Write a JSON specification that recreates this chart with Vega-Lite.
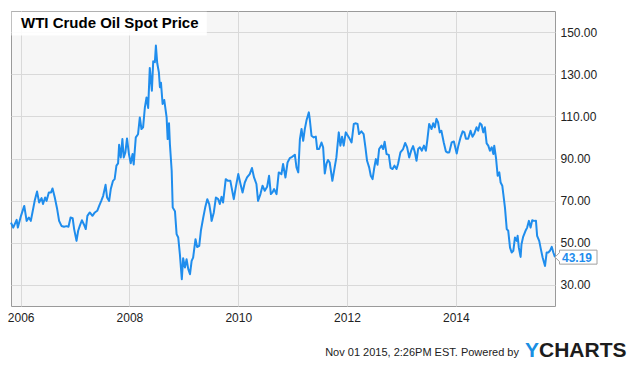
{
  "$schema": "https://vega.github.io/schema/vega-lite/v6.json",
  "width": 544,
  "height": 295,
  "autosize": "none",
  "padding": {"left": 11, "top": 11, "right": 80, "bottom": 60},
  "background": "white",
  "config": {
    "view": {"fill": "#f6f6f6", "stroke": "#9a9a9a", "strokeWidth": 1},
    "font": "Liberation Sans"
  },
  "title": {
    "text": "WTI Crude Oil Spot Price",
    "anchor": "start",
    "frame": "group",
    "orient": "top",
    "offset": -18,
    "baseline": "alphabetic",
    "dx": 10,
    "dy": 14,
    "fontSize": 15,
    "font": "Liberation Sans",
    "fontWeight": "bold",
    "color": "#000000"
  },
  "layer": [
    {
      "data": {"values": [
        {"date": "2005-10-28", "price": 59.6},
        {"date": "2005-11-12", "price": 57.2},
        {"date": "2005-12-05", "price": 60.9},
        {"date": "2005-12-13", "price": 57.2},
        {"date": "2006-01-03", "price": 62.8},
        {"date": "2006-01-25", "price": 67.5},
        {"date": "2006-02-10", "price": 60.4},
        {"date": "2006-02-25", "price": 62.0},
        {"date": "2006-03-10", "price": 60.4},
        {"date": "2006-03-21", "price": 64.4},
        {"date": "2006-04-05", "price": 69.9},
        {"date": "2006-04-21", "price": 74.3},
        {"date": "2006-05-05", "price": 69.1},
        {"date": "2006-05-21", "price": 71.2},
        {"date": "2006-05-31", "price": 68.4},
        {"date": "2006-06-14", "price": 71.5},
        {"date": "2006-06-24", "price": 69.9},
        {"date": "2006-07-09", "price": 73.9},
        {"date": "2006-07-24", "price": 73.9},
        {"date": "2006-08-03", "price": 75.8},
        {"date": "2006-08-18", "price": 71.5},
        {"date": "2006-09-03", "price": 66.0},
        {"date": "2006-09-16", "price": 60.4},
        {"date": "2006-10-02", "price": 58.0},
        {"date": "2006-10-19", "price": 57.6},
        {"date": "2006-11-05", "price": 57.9},
        {"date": "2006-11-18", "price": 57.6},
        {"date": "2006-12-02", "price": 62.0},
        {"date": "2006-12-16", "price": 61.7},
        {"date": "2006-12-26", "price": 56.5},
        {"date": "2007-01-11", "price": 50.9},
        {"date": "2007-01-22", "price": 55.7},
        {"date": "2007-02-02", "price": 58.0},
        {"date": "2007-02-16", "price": 60.7},
        {"date": "2007-03-01", "price": 58.8},
        {"date": "2007-03-14", "price": 56.5},
        {"date": "2007-03-25", "price": 62.8},
        {"date": "2007-04-10", "price": 64.4},
        {"date": "2007-04-28", "price": 62.8},
        {"date": "2007-05-14", "price": 64.4},
        {"date": "2007-05-30", "price": 65.2},
        {"date": "2007-06-12", "price": 67.5},
        {"date": "2007-06-26", "price": 69.9},
        {"date": "2007-07-09", "price": 72.3},
        {"date": "2007-07-25", "price": 77.5},
        {"date": "2007-08-04", "price": 71.5},
        {"date": "2007-08-18", "price": 69.9},
        {"date": "2007-08-29", "price": 75.5},
        {"date": "2007-09-13", "price": 79.4},
        {"date": "2007-09-24", "price": 80.2},
        {"date": "2007-10-06", "price": 86.6},
        {"date": "2007-10-17", "price": 87.7},
        {"date": "2007-10-24", "price": 96.5},
        {"date": "2007-11-04", "price": 90.5},
        {"date": "2007-11-15", "price": 99.2},
        {"date": "2007-11-24", "price": 90.5},
        {"date": "2007-12-05", "price": 92.9},
        {"date": "2007-12-16", "price": 99.5},
        {"date": "2007-12-29", "price": 92.1},
        {"date": "2008-01-10", "price": 87.7},
        {"date": "2008-01-22", "price": 92.1},
        {"date": "2008-01-30", "price": 87.2},
        {"date": "2008-02-13", "price": 100.0},
        {"date": "2008-02-28", "price": 101.5},
        {"date": "2008-03-11", "price": 109.5},
        {"date": "2008-03-22", "price": 104.0},
        {"date": "2008-04-02", "price": 104.8},
        {"date": "2008-04-14", "price": 114.3},
        {"date": "2008-04-25", "price": 119.0},
        {"date": "2008-05-06", "price": 114.0},
        {"date": "2008-05-17", "price": 133.0},
        {"date": "2008-05-31", "price": 122.2},
        {"date": "2008-06-09", "price": 136.1},
        {"date": "2008-06-20", "price": 135.7},
        {"date": "2008-06-27", "price": 143.6},
        {"date": "2008-07-06", "price": 135.2},
        {"date": "2008-07-17", "price": 130.9},
        {"date": "2008-07-24", "price": 123.8},
        {"date": "2008-07-31", "price": 126.0},
        {"date": "2008-08-11", "price": 115.9},
        {"date": "2008-08-22", "price": 117.8},
        {"date": "2008-09-07", "price": 109.5},
        {"date": "2008-09-14", "price": 99.2},
        {"date": "2008-09-23", "price": 106.7},
        {"date": "2008-09-29", "price": 96.9},
        {"date": "2008-10-11", "price": 84.2},
        {"date": "2008-10-18", "price": 66.7},
        {"date": "2008-11-02", "price": 65.0},
        {"date": "2008-11-13", "price": 54.1},
        {"date": "2008-11-24", "price": 52.5},
        {"date": "2008-12-05", "price": 44.6},
        {"date": "2008-12-18", "price": 32.7},
        {"date": "2008-12-27", "price": 42.7},
        {"date": "2009-01-08", "price": 38.3},
        {"date": "2009-01-19", "price": 42.2},
        {"date": "2009-01-30", "price": 37.6},
        {"date": "2009-02-11", "price": 35.1},
        {"date": "2009-02-22", "price": 41.4},
        {"date": "2009-03-04", "price": 43.0},
        {"date": "2009-03-20", "price": 51.7},
        {"date": "2009-03-31", "price": 48.0},
        {"date": "2009-04-14", "price": 48.5},
        {"date": "2009-04-25", "price": 55.7},
        {"date": "2009-05-11", "price": 62.0},
        {"date": "2009-05-24", "price": 66.7},
        {"date": "2009-06-07", "price": 70.7},
        {"date": "2009-06-20", "price": 68.4},
        {"date": "2009-07-01", "price": 63.6},
        {"date": "2009-07-06", "price": 60.4},
        {"date": "2009-07-21", "price": 64.4},
        {"date": "2009-08-04", "price": 71.5},
        {"date": "2009-08-19", "price": 70.7},
        {"date": "2009-08-30", "price": 68.4},
        {"date": "2009-09-11", "price": 71.8},
        {"date": "2009-09-21", "price": 69.1},
        {"date": "2009-10-09", "price": 80.2},
        {"date": "2009-10-24", "price": 79.4},
        {"date": "2009-11-09", "price": 79.4},
        {"date": "2009-12-02", "price": 70.7},
        {"date": "2009-12-15", "price": 76.2},
        {"date": "2010-01-01", "price": 82.6},
        {"date": "2010-01-16", "price": 77.9},
        {"date": "2010-01-30", "price": 73.9},
        {"date": "2010-02-14", "price": 78.6},
        {"date": "2010-03-01", "price": 81.0},
        {"date": "2010-03-19", "price": 82.6},
        {"date": "2010-04-03", "price": 85.5},
        {"date": "2010-04-17", "price": 81.0},
        {"date": "2010-05-03", "price": 77.9},
        {"date": "2010-05-14", "price": 69.9},
        {"date": "2010-05-30", "price": 73.1},
        {"date": "2010-06-13", "price": 77.1},
        {"date": "2010-06-28", "price": 74.7},
        {"date": "2010-07-14", "price": 76.6},
        {"date": "2010-07-27", "price": 81.8},
        {"date": "2010-08-08", "price": 73.1},
        {"date": "2010-08-19", "price": 73.9},
        {"date": "2010-08-30", "price": 75.5},
        {"date": "2010-09-15", "price": 73.1},
        {"date": "2010-09-30", "price": 83.4},
        {"date": "2010-10-18", "price": 82.6},
        {"date": "2010-10-29", "price": 87.4},
        {"date": "2010-11-14", "price": 81.0},
        {"date": "2010-11-28", "price": 88.1},
        {"date": "2010-12-13", "price": 90.2},
        {"date": "2010-12-29", "price": 90.8},
        {"date": "2011-01-16", "price": 91.8},
        {"date": "2011-01-27", "price": 85.8},
        {"date": "2011-02-08", "price": 83.4},
        {"date": "2011-02-19", "price": 99.2},
        {"date": "2011-03-02", "price": 104.0},
        {"date": "2011-03-13", "price": 98.4},
        {"date": "2011-03-24", "price": 104.0},
        {"date": "2011-04-04", "price": 108.0},
        {"date": "2011-04-20", "price": 111.9},
        {"date": "2011-04-26", "price": 108.8},
        {"date": "2011-05-08", "price": 100.8},
        {"date": "2011-05-23", "price": 100.0},
        {"date": "2011-06-06", "price": 100.4},
        {"date": "2011-06-15", "price": 94.5},
        {"date": "2011-06-28", "price": 94.5},
        {"date": "2011-07-14", "price": 97.6},
        {"date": "2011-07-25", "price": 95.3},
        {"date": "2011-08-05", "price": 82.9},
        {"date": "2011-08-16", "price": 87.4},
        {"date": "2011-08-27", "price": 89.3},
        {"date": "2011-09-07", "price": 88.1},
        {"date": "2011-09-25", "price": 79.4},
        {"date": "2011-10-11", "price": 86.0},
        {"date": "2011-10-22", "price": 90.5},
        {"date": "2011-11-07", "price": 102.4},
        {"date": "2011-11-18", "price": 96.1},
        {"date": "2011-11-29", "price": 100.3},
        {"date": "2011-12-10", "price": 96.1},
        {"date": "2011-12-24", "price": 102.4},
        {"date": "2012-01-07", "price": 100.8},
        {"date": "2012-01-20", "price": 99.2},
        {"date": "2012-02-01", "price": 97.6},
        {"date": "2012-02-16", "price": 106.4},
        {"date": "2012-03-01", "price": 106.7},
        {"date": "2012-03-12", "price": 106.4},
        {"date": "2012-03-22", "price": 101.6},
        {"date": "2012-04-07", "price": 102.9},
        {"date": "2012-04-22", "price": 101.6},
        {"date": "2012-05-04", "price": 95.3},
        {"date": "2012-05-15", "price": 88.9},
        {"date": "2012-05-29", "price": 85.8},
        {"date": "2012-06-09", "price": 81.8},
        {"date": "2012-06-21", "price": 80.2},
        {"date": "2012-07-01", "price": 85.0},
        {"date": "2012-07-13", "price": 89.7},
        {"date": "2012-07-24", "price": 87.0},
        {"date": "2012-08-04", "price": 94.5},
        {"date": "2012-08-20", "price": 96.1},
        {"date": "2012-08-31", "price": 94.5},
        {"date": "2012-09-10", "price": 98.0},
        {"date": "2012-09-23", "price": 92.1},
        {"date": "2012-10-08", "price": 91.7},
        {"date": "2012-10-20", "price": 85.5},
        {"date": "2012-11-02", "price": 85.0},
        {"date": "2012-11-15", "price": 86.6},
        {"date": "2012-11-29", "price": 85.0},
        {"date": "2012-12-09", "price": 87.4},
        {"date": "2012-12-25", "price": 92.9},
        {"date": "2013-01-12", "price": 94.5},
        {"date": "2013-01-26", "price": 97.4},
        {"date": "2013-02-08", "price": 95.3},
        {"date": "2013-02-22", "price": 90.5},
        {"date": "2013-03-07", "price": 93.7},
        {"date": "2013-03-20", "price": 95.9},
        {"date": "2013-04-01", "price": 92.9},
        {"date": "2013-04-12", "price": 88.9},
        {"date": "2013-04-23", "price": 94.5},
        {"date": "2013-05-05", "price": 95.3},
        {"date": "2013-05-18", "price": 93.7},
        {"date": "2013-06-01", "price": 96.1},
        {"date": "2013-06-14", "price": 93.7},
        {"date": "2013-06-23", "price": 98.4},
        {"date": "2013-07-06", "price": 106.4},
        {"date": "2013-07-22", "price": 104.0},
        {"date": "2013-08-02", "price": 106.7},
        {"date": "2013-08-13", "price": 104.8},
        {"date": "2013-08-24", "price": 108.8},
        {"date": "2013-09-04", "price": 107.1},
        {"date": "2013-09-15", "price": 102.4},
        {"date": "2013-09-26", "price": 103.2},
        {"date": "2013-10-12", "price": 97.6},
        {"date": "2013-10-26", "price": 93.4},
        {"date": "2013-11-05", "price": 92.9},
        {"date": "2013-11-18", "price": 92.9},
        {"date": "2013-12-04", "price": 97.6},
        {"date": "2013-12-19", "price": 98.1},
        {"date": "2014-01-07", "price": 92.4},
        {"date": "2014-01-18", "price": 96.1},
        {"date": "2014-02-03", "price": 100.3},
        {"date": "2014-02-16", "price": 102.9},
        {"date": "2014-02-27", "price": 102.4},
        {"date": "2014-03-10", "price": 99.4},
        {"date": "2014-03-25", "price": 99.4},
        {"date": "2014-04-10", "price": 103.2},
        {"date": "2014-04-23", "price": 100.3},
        {"date": "2014-05-04", "price": 101.6},
        {"date": "2014-05-20", "price": 104.8},
        {"date": "2014-05-31", "price": 103.2},
        {"date": "2014-06-12", "price": 106.7},
        {"date": "2014-06-23", "price": 106.0},
        {"date": "2014-07-04", "price": 102.4},
        {"date": "2014-07-15", "price": 104.8},
        {"date": "2014-07-27", "price": 97.2},
        {"date": "2014-08-07", "price": 96.1},
        {"date": "2014-08-18", "price": 93.7},
        {"date": "2014-08-30", "price": 95.3},
        {"date": "2014-09-10", "price": 92.1},
        {"date": "2014-09-16", "price": 96.1},
        {"date": "2014-09-28", "price": 90.2},
        {"date": "2014-10-09", "price": 81.8},
        {"date": "2014-10-20", "price": 83.4},
        {"date": "2014-10-29", "price": 78.6},
        {"date": "2014-11-09", "price": 77.1},
        {"date": "2014-11-16", "price": 73.1},
        {"date": "2014-11-27", "price": 66.7},
        {"date": "2014-12-09", "price": 56.5},
        {"date": "2014-12-19", "price": 55.7},
        {"date": "2014-12-31", "price": 47.7},
        {"date": "2015-01-11", "price": 45.4},
        {"date": "2015-01-22", "price": 46.2},
        {"date": "2015-02-02", "price": 52.5},
        {"date": "2015-02-14", "price": 50.9},
        {"date": "2015-02-20", "price": 53.3},
        {"date": "2015-02-28", "price": 47.7},
        {"date": "2015-03-12", "price": 43.3},
        {"date": "2015-03-18", "price": 49.3},
        {"date": "2015-03-29", "price": 52.8},
        {"date": "2015-04-14", "price": 55.7},
        {"date": "2015-04-25", "price": 57.2},
        {"date": "2015-05-07", "price": 60.4},
        {"date": "2015-05-18", "price": 57.2},
        {"date": "2015-05-29", "price": 60.7},
        {"date": "2015-06-09", "price": 60.4},
        {"date": "2015-06-23", "price": 60.5},
        {"date": "2015-07-01", "price": 53.3},
        {"date": "2015-07-15", "price": 50.9},
        {"date": "2015-07-26", "price": 47.0},
        {"date": "2015-08-07", "price": 43.0},
        {"date": "2015-08-23", "price": 39.0},
        {"date": "2015-09-03", "price": 45.4},
        {"date": "2015-09-14", "price": 45.4},
        {"date": "2015-09-25", "price": 46.2},
        {"date": "2015-10-07", "price": 48.1},
        {"date": "2015-10-18", "price": 45.4},
        {"date": "2015-10-29", "price": 43.19}
      ]},
      "mark": {"type": "line", "color": "#1f8ded", "strokeWidth": 2, "strokeJoin": "round"},
      "encoding": {
        "x": {
          "field": "date",
          "type": "temporal",
          "scale": {"domain": [{"year": 2005, "month": 10, "date": 28}, {"year": 2015, "month": 10, "date": 29}]},
          "axis": {
            "values": [{"year": 2006, "month": 1, "date": 1}, {"year": 2008, "month": 1, "date": 1}, {"year": 2010, "month": 1, "date": 1}, {"year": 2012, "month": 1, "date": 1}, {"year": 2014, "month": 1, "date": 1}],
            "format": "%Y",
            "grid": true,
            "gridColor": "#d9d9d9",
            "ticks": false,
            "tickSize": 0,
            "domain": false,
            "labelFont": "Liberation Sans",
            "labelFontSize": 12,
            "labelColor": "#222222",
            "labelPadding": 6,
            "labelFlush": false,
            "labelOverlap": false,
            "title": null
          }
        },
        "y": {
          "field": "price",
          "type": "quantitative",
          "scale": {"domain": [20, 160], "nice": false, "zero": false},
          "axis": {
            "orient": "right",
            "values": [30, 50, 70, 90, 110, 130, 150],
            "format": ".2f",
            "grid": true,
            "gridColor": "#d9d9d9",
            "ticks": false,
            "tickSize": 0,
            "domain": false,
            "labelFont": "Liberation Sans",
            "labelFontSize": 12,
            "labelColor": "#222222",
            "labelPadding": 5,
            "title": null
          }
        }
      }
    },
    {
      "data": {"values": [{}]},
      "mark": {"type": "rect", "fill": "#ffffff", "opacity": 0.92},
      "encoding": {
        "x": {"datum": {"year": 2005, "month": 11, "date": 1}, "type": "temporal"},
        "x2": {"datum": {"year": 2009, "month": 6, "date": 4}},
        "y": {"datum": 159.6, "type": "quantitative"},
        "y2": {"datum": 148.4}
      }
    },
    {
      "data": {"values": [{}]},
      "mark": {
        "type": "point",
        "shape": "M0,0 L4.5,-4.5 L4.5,-7 L42,-7 L42,7 L4.5,7 L4.5,4.5 Z",
        "size": 4,
        "filled": true,
        "fill": "#ffffff",
        "stroke": "#a0a0a0",
        "strokeWidth": 1,
        "opacity": 1
      },
      "encoding": {
        "x": {"datum": {"year": 2015, "month": 10, "date": 29}, "type": "temporal"},
        "y": {"datum": 43.19, "type": "quantitative"}
      }
    },
    {
      "data": {"values": [{}]},
      "mark": {"type": "text", "text": "43.19", "align": "left", "baseline": "middle", "dx": 7, "dy": 1, "font": "Liberation Sans", "fontSize": 12, "fontWeight": "bold", "color": "#1f8ded"},
      "encoding": {
        "x": {"datum": {"year": 2015, "month": 10, "date": 29}, "type": "temporal"},
        "y": {"datum": 43.19, "type": "quantitative"}
      }
    },
    {
      "data": {"values": [{}]},
      "mark": {"type": "text", "text": "Nov 01 2015, 2:26PM EST.  Powered by", "align": "right", "baseline": "alphabetic", "dx": -36, "dy": 50, "font": "Liberation Sans", "fontSize": 11, "color": "#222222"},
      "encoding": {
        "x": {"datum": {"year": 2015, "month": 10, "date": 29}, "type": "temporal"},
        "y": {"datum": 20, "type": "quantitative"}
      }
    },
    {
      "data": {"values": [{}]},
      "mark": {"type": "text", "text": "Y", "align": "left", "baseline": "alphabetic", "dx": -30, "dy": 51, "font": "Liberation Sans", "fontSize": 21, "fontWeight": "bold", "color": "#1a8fe3"},
      "encoding": {
        "x": {"datum": {"year": 2015, "month": 10, "date": 29}, "type": "temporal"},
        "y": {"datum": 20, "type": "quantitative"}
      }
    },
    {
      "data": {"values": [{}]},
      "mark": {"type": "text", "text": "CHARTS", "align": "left", "baseline": "alphabetic", "dx": -16, "dy": 51, "font": "Liberation Sans", "fontSize": 21, "fontWeight": "bold", "color": "#1c1c1c"},
      "encoding": {
        "x": {"datum": {"year": 2015, "month": 10, "date": 29}, "type": "temporal"},
        "y": {"datum": 20, "type": "quantitative"}
      }
    }
  ]
}
